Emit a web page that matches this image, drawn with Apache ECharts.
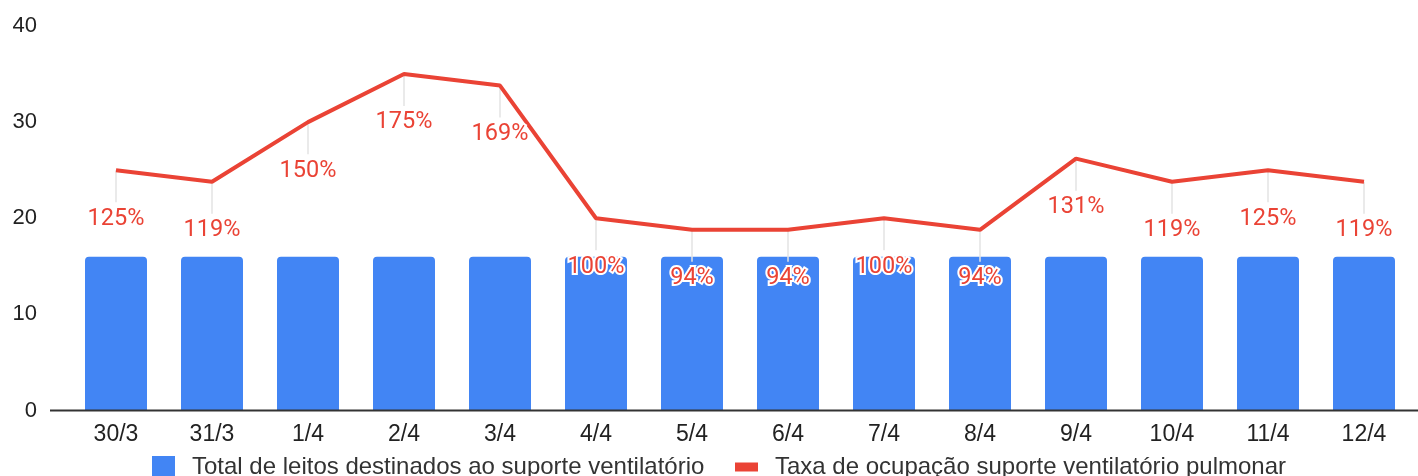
<!DOCTYPE html>
<html>
<head>
<meta charset="utf-8">
<script src="https://cdn.jsdelivr.net/npm/echarts@6/dist/echarts.min.js"></script>
<style>html,body{margin:0;padding:0;background:#fff;}#c{width:1418px;height:476px;}</style>
</head>
<body>
<div id="c"></div>
<script>
var categories = ['30/3','31/3','1/4','2/4','3/4','4/4','5/4','6/4','7/4','8/4','9/4','10/4','11/4','12/4'];
var totalLeitos = [16,16,16,16,16,16,16,16,16,16,16,16,16,16];
var taxaOcupacao = [125,119,150,175,169,100,94,94,100,94,131,119,125,119];
var yTicks = [0,10,20,30,40];
var barName = 'Total de leitos destinados ao suporte ventilatório';
var lineName = 'Taxa de ocupação suporte ventilatório pulmonar';

var chart = echarts.init(document.getElementById('c'), null, {renderer:'canvas'});
var option = {
  animation:false,
  grid:{left:68,right:6,top:26,bottom:65.5},
  legend:[{
    data:[{name:barName, icon:'rect'}],
    left:152, top:455, padding:0, itemWidth:23, itemHeight:22,
    textStyle:{fontFamily:'Liberation Sans', fontSize:24, color:'#333', padding:[0,0,0,12]}
  },{
    data:[{name:lineName, icon:'rect'}],
    left:735, top:455, padding:0, itemWidth:23, itemHeight:9,
    textStyle:{fontFamily:'Liberation Sans', fontSize:24, color:'#333', padding:[0,0,0,12]}
  }],
  xAxis:{
    type:'category', data:categories,
    axisLine:{show:false}, axisTick:{show:false},
    axisLabel:{fontFamily:'Liberation Sans', fontSize:23, color:'#222', margin:13}
  },
  yAxis:[{
    type:'value', min:yTicks[0], max:yTicks[yTicks.length-1], interval:10,
    axisLine:{show:false}, axisTick:{show:false}, splitLine:{show:false},
    axisLabel:{fontFamily:'Liberation Sans', fontSize:22, color:'#222', margin:31}
  },{
    type:'value', min:0, max:200, show:false, splitLine:{show:false}
  }],
  series:[{
    name:barName, type:'bar', data:totalLeitos, barWidth:62,
    itemStyle:{color:'#4285f4', borderRadius:[4,4,0,0]}, z:1
  },{
    type:'custom', yAxisIndex:1, z:2, silent:true,
    data:taxaOcupacao.map(function(v,i){return [i,v];}),
    renderItem:function(params, api){
      var p = api.coord([api.value(0), api.value(1)]);
      return {type:'line', shape:{x1:p[0], y1:p[1], x2:p[0], y2:p[1]+32},
        style:{stroke:'#e3e3e3', lineWidth:1.5}};
    }
  },{
    name:lineName, type:'line', yAxisIndex:1, data:taxaOcupacao, z:3,
    symbol:'none', lineStyle:{color:'#ea4335', width:4}, itemStyle:{color:'#ea4335'}
  },{
    type:'custom', yAxisIndex:1, z:4, silent:true,
    data:taxaOcupacao.map(function(v,i){return [i,v];}),
    renderItem:function(params, api){
      var p = api.coord([api.value(0), api.value(1)]);
      return {type:'text', x:p[0], y:p[1]+48.5,
        style:{text:api.value(1)+'%', fill:'#ea4335', font:'23.5px Roboto',
          align:'center', verticalAlign:'middle', stroke:'#fff', lineWidth:4}};
    }
  }]
};
chart.setOption(option);
var y0 = chart.convertToPixel({yAxisIndex:0}, 0);
chart.setOption({graphic:[{type:'line', z:10, shape:{x1:50, y1:y0, x2:1418, y2:y0}, style:{stroke:'#333', lineWidth:2}}]});
</script>
</body>
</html>
